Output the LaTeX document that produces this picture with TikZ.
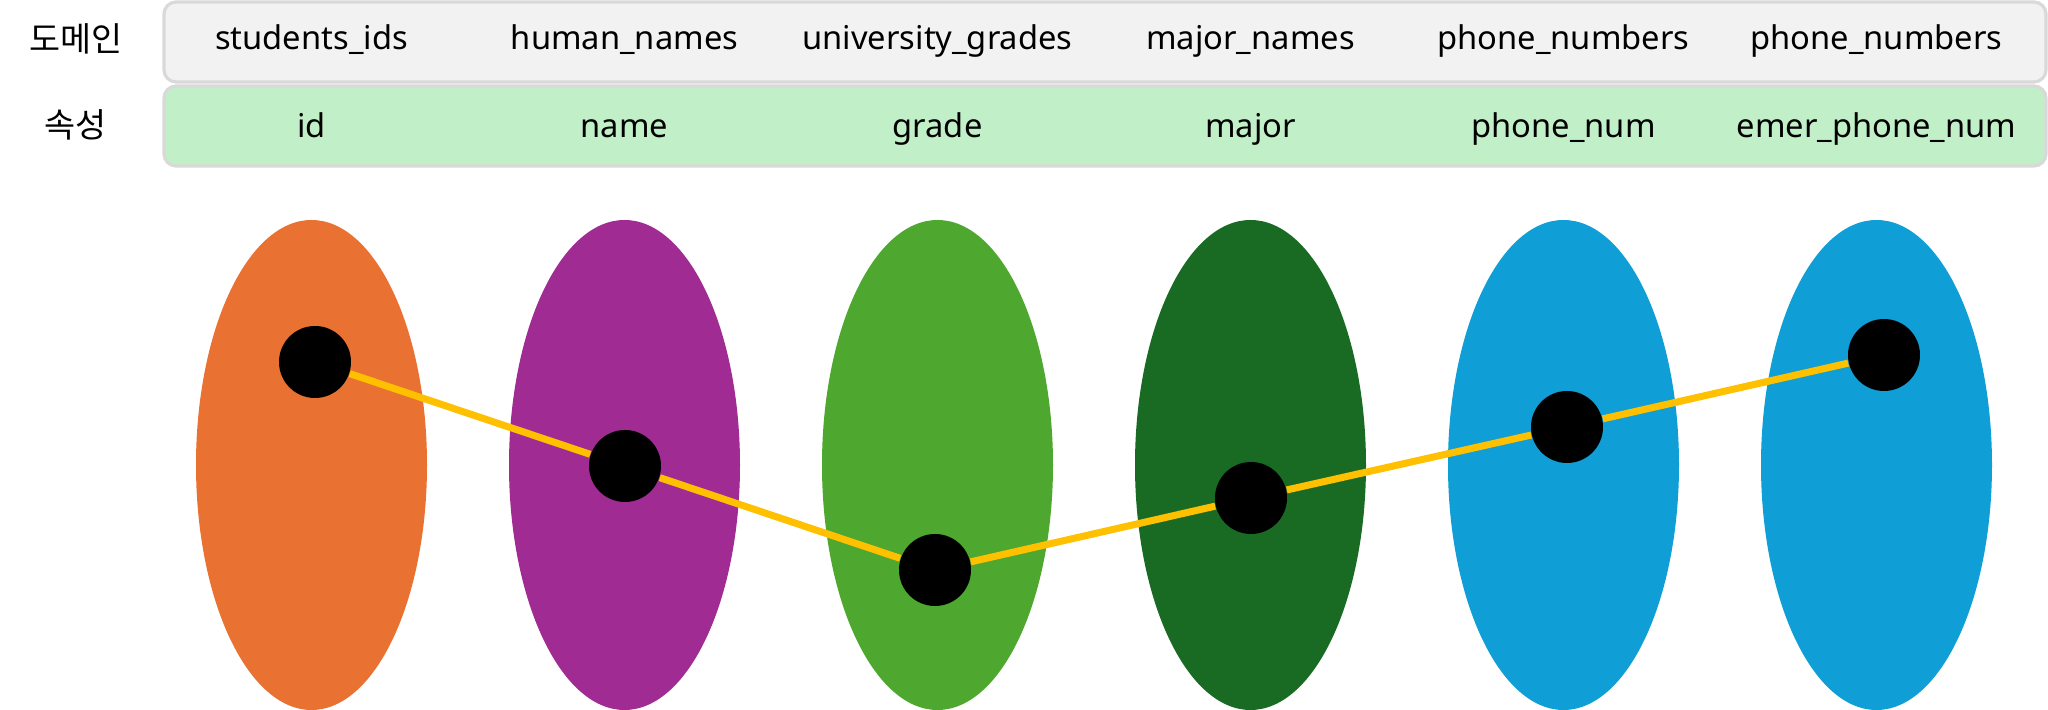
\documentclass[tikz,border=0pt]{standalone}
\usepackage{fontspec}
\setmainfont{Noto Sans}
\newfontfamily\krfont{Noto Sans CJK KR}
\usetikzlibrary{shapes.geometric}
\definecolor{boxgray}{HTML}{F2F2F2}
\definecolor{boxline}{HTML}{D9D9D9}
\definecolor{boxgreen}{HTML}{C1F0C8}
\definecolor{cOrange}{HTML}{E97132}
\definecolor{cPurple}{HTML}{A02B93}
\definecolor{cGreen}{HTML}{4EA72E}
\definecolor{cDkGreen}{HTML}{196B24}
\definecolor{cBlue}{HTML}{0F9ED5}
\definecolor{cGold}{HTML}{FFC000}
\tikzset{
  rowbox/.style={draw=boxline,line width=0.9pt,rounded corners=0.12cm,minimum width=18.82cm,minimum height=0.80cm},
  rowlabel/.style={font=\krfont\fontsize{9.6}{11}\selectfont},
  celltext/.style={anchor=base,font=\fontsize{9.3}{11}\selectfont},
  domainset/.style={ellipse,minimum width=2.31cm,minimum height=4.9cm,inner sep=0pt},
  value/.style={circle,fill=black,minimum size=0.72cm,inner sep=0pt},
  tuple/.style={cGold,line width=2pt}
}
\begin{document}
\begin{tikzpicture}
    \useasboundingbox (0,0) rectangle (20.48,7.10);
    % header rows
    \node[rowbox,fill=boxgray] (domrow) at (11.05,6.68) {};
    \node[rowbox,fill=boxgreen] (attrow) at (11.05,5.84) {};
    \node[rowlabel] (domlabel) at (0.76,6.71) {도메인};
    \node[rowlabel] (attlabel) at (0.76,5.85) {속성};
    \node[celltext] (dom1) at (3.115,6.60) {students\_ids};
    \node[celltext] (dom2) at (6.245,6.60) {human\_names};
    \node[celltext] (dom3) at (9.375,6.60) {university\_grades};
    \node[celltext] (dom4) at (12.505,6.60) {major\_names};
    \node[celltext] (dom5) at (15.635,6.60) {phone\_numbers};
    \node[celltext] (dom6) at (18.765,6.60) {phone\_numbers};
    \node[celltext] (att1) at (3.115,5.72) {id};
    \node[celltext] (att2) at (6.245,5.72) {name};
    \node[celltext] (att3) at (9.375,5.72) {grade};
    \node[celltext] (att4) at (12.505,5.72) {major};
    \node[celltext] (att5) at (15.635,5.72) {phone\_num};
    \node[celltext] (att6) at (18.765,5.72) {emer\_phone\_num};
    % domains
    \node[domainset,fill=cOrange] (set1) at (3.115,2.45) {};
    \node[domainset,fill=cPurple] (set2) at (6.245,2.45) {};
    \node[domainset,fill=cGreen] (set3) at (9.375,2.45) {};
    \node[domainset,fill=cDkGreen] (set4) at (12.505,2.45) {};
    \node[domainset,fill=cBlue] (set5) at (15.635,2.45) {};
    \node[domainset,fill=cBlue] (set6) at (18.765,2.45) {};
    % one tuple
    \node[value] (v1) at (3.15,3.48) {};
    \node[value] (v2) at (6.25,2.44) {};
    \node[value] (v3) at (9.35,1.40) {};
    \node[value] (v4) at (12.51,2.12) {};
    \node[value] (v5) at (15.67,2.83) {};
    \node[value] (v6) at (18.84,3.55) {};
    \draw[tuple] (v1)--(v2)--(v3)--(v4)--(v5)--(v6);
  \end{tikzpicture}
\end{document}
